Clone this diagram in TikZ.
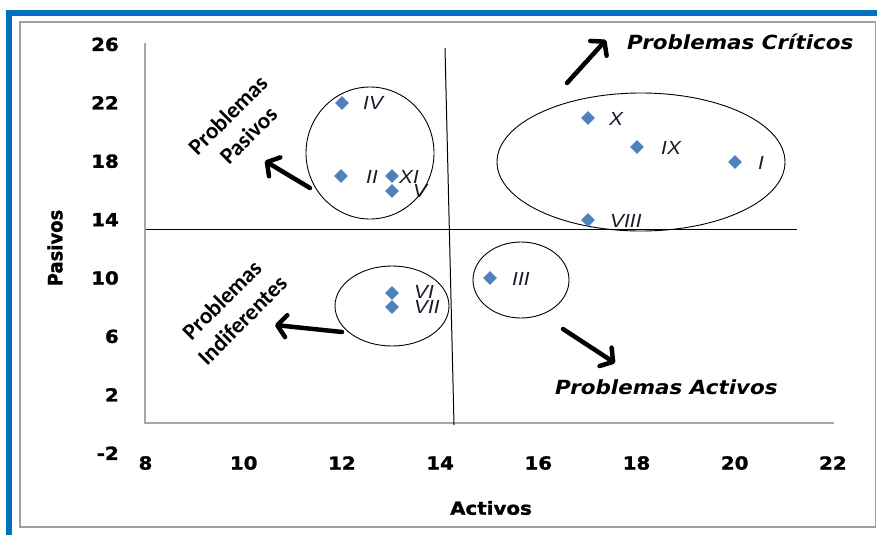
\documentclass[tikz,border=0pt]{standalone}
\usepackage{fontspec}
\usepackage{graphicx}
\usetikzlibrary{arrows.meta,shapes.geometric}
\newfontfamily\verd{DejaVu Sans}[BoldFeatures={FakeBold=1.3}]
\newfontfamily\arialf{Liberation Sans}
\newfontfamily\calf{Carlito}
\definecolor{frameblue}{HTML}{0070C0}
\definecolor{mk}{HTML}{4F81BD}
\definecolor{axgray}{HTML}{A6A6A6}
\definecolor{bordergray}{HTML}{A0A0A0}
\definecolor{lbltext}{HTML}{1A1A2A}
\newcommand\hs[1]{\scalebox{1.1}[1]{#1}}
\newcommand\vs[1]{\scalebox{1}[1.1]{#1}}
\begin{document}
\begin{tikzpicture}[x=1pt,y=-1pt,
  tick/.style={font=\verd\bfseries\fontsize{18}{18}\selectfont, text=black, inner sep=0pt},
  axtitle/.style={font=\verd\bfseries\fontsize{18}{18}\selectfont, text=black, inner sep=0pt},
  quad/.style={font=\calf\bfseries\fontsize{23}{29}\selectfont, text=black, align=center, rotate=45, inner sep=0pt},
  crit/.style={font=\verd\bfseries\itshape\fontsize{19.5}{20}\selectfont, text=black, anchor=west, inner sep=0pt},
  pt/.style={diamond, fill=mk, minimum width=14pt, minimum height=14pt, inner sep=0pt},
  lbl/.style={font=\arialf\itshape\fontsize{19}{19}\selectfont, text=lbltext, anchor=west, inner sep=0pt},
  grp/.style={draw=black, line width=0.9pt},
  bigarrow/.style={line width=4.5pt, line cap=round, line join=round,
    -{Straight Barb[length=9pt,width=22pt,line width=4.5pt,round]}},
  divider/.style={draw=black, line width=1pt}
]
\useasboundingbox (0,0) rectangle (877,535);
\fill[white] (0,0) rectangle (877,535);
% frame
\fill[frameblue] (6,10) rectangle (877,16);
\fill[frameblue] (6,10) rectangle (12,535);
\draw[bordergray, line width=1.2pt] (20,22) rectangle (875.4,527);
% axes
\coordinate (yaxtop) at (145,43);
\coordinate (origin) at (145,423);
\coordinate (xaxend) at (834,423);
\draw[axgray, line width=1.3pt] (yaxtop) -- (origin) -- (xaxend);
% y ticks
\foreach \v/\n in {26/a,22/b,18/c,14/d,10/e,6/f,2/g,-2/h}
  \node[tick, anchor=east] (yt\n) at (119,{424-14.6*\v}) {\hs{\v}};
% x ticks
\foreach \v in {8,10,...,22}
  \node[tick] (xt\v) at ({145.5+49.1*(\v-8)},463) {\hs{\v}};
% axis titles
\node[axtitle] (xtitle) at (491,508) {\hs{Activos}};
\node[axtitle, rotate=90] (ytitle) at (55,248) {\vs{Pasivos}};
% dividers
\coordinate (vtop) at (445,48);
\coordinate (vbot) at (454,425);
\draw[divider] (vtop) -- (vbot);
\coordinate (hleft) at (146,229);
\coordinate (hright) at (797,229);
\draw[divider] (hleft) -- (hright);
% group ellipses
\draw[grp] (370,153) ellipse [x radius=64, y radius=66];
\draw[grp] (641,162) ellipse [x radius=144, y radius=69];
\draw[grp] (521,280) ellipse [x radius=48, y radius=38];
\draw[grp] (392,306) ellipse [x radius=57, y radius=40];
% data points
\node[pt] (pIV) at (342,103) {};
\node[pt] (pII) at (341,176) {};
\node[pt] (pXI) at (392,176) {};
\node[pt] (pV) at (392,191) {};
\node[pt] (pX) at (588,118) {};
\node[pt] (pIX) at (637,147) {};
\node[pt] (pI) at (735,162) {};
\node[pt] (pVIII) at (588,220) {};
\node[pt] (pIII) at (490,278) {};
\node[pt] (pVI) at (392,293) {};
\node[pt] (pVII) at (392,307) {};
% point labels
\node[lbl] (lIV) at (363,103) {\hs{IV}};
\node[lbl] (lII) at (366,177) {\hs{II}};
\node[lbl] (lXI) at (399,177) {\hs{XI}};
\node[lbl] (lV) at (413,191) {\hs{V}};
\node[lbl] (lX) at (609,119) {\hs{X}};
\node[lbl] (lIX) at (661,148) {\hs{IX}};
\node[lbl] (lI) at (758,163) {\hs{I}};
\node[lbl] (lVIII) at (610,221) {\hs{VIII}};
\node[lbl] (lIII) at (512,279) {\hs{III}};
\node[lbl] (lVI) at (414,292) {\hs{VI}};
\node[lbl] (lVII) at (414,307) {\hs{VII}};
% quadrant labels
\node[crit] (tcrit) at (627,42) {\hs{Problemas Críticos}};
\node[crit] (tact) at (555,387) {\hs{Problemas Activos}};
\node[quad] (tpas) at (238,125) {Problemas\\Pasivos};
\node[quad] (tind) at (232,310) {Problemas\\Indiferentes};
% arrows
\coordinate (a1s) at (567,83);  \coordinate (a1e) at (606,40);
\coordinate (a2s) at (310,188); \coordinate (a2e) at (265,161);
\coordinate (a3s) at (342,332); \coordinate (a3e) at (275,325);
\coordinate (a4s) at (563,329); \coordinate (a4e) at (615,363);
\draw[bigarrow] (a1s) -- (a1e);
\draw[bigarrow] (a2s) -- (a2e);
\draw[bigarrow] (a3s) -- (a3e);
\draw[bigarrow] (a4s) -- (a4e);
\end{tikzpicture}
\end{document}
